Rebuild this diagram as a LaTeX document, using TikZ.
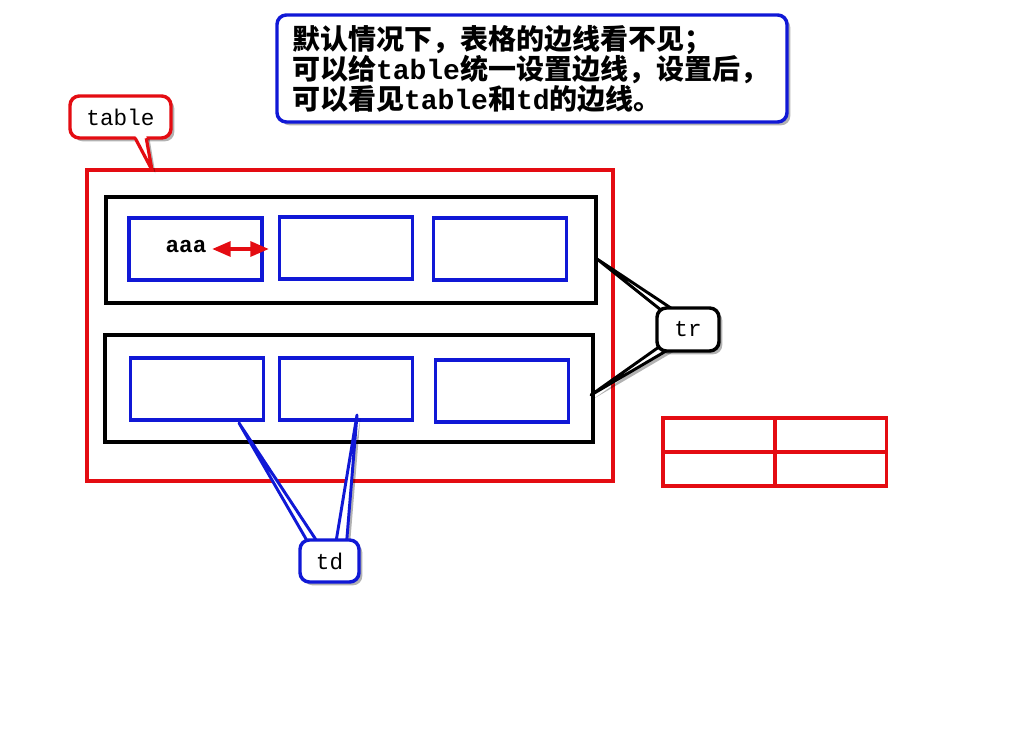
\documentclass[tikz,border=0pt]{standalone}
\usepackage{fontspec}
\setmonofont{Liberation Mono}
\newfontfamily\cjk{Noto Sans CJK SC}
\usetikzlibrary{shadows,arrows.meta,calc}
\definecolor{cred}{RGB}{228,12,18}
\definecolor{cblue}{RGB}{16,24,214}
\pgfdeclarelayer{back}
\pgfdeclarelayer{mid}
\pgfsetlayers{back,mid,main}
\newcommand\zhtxt[1]{{\cjk\bfseries\fontsize{21}{22.5}\selectfont #1}}
\newcommand\entxt[1]{{\ttfamily\bfseries\fontsize{21}{22.5}\selectfont #1}}
\begin{document}
\begin{tikzpicture}[x=0.75pt,y=-0.75pt,
 cell/.style={draw=cblue,line width=2.6pt,minimum width=99.75pt,minimum height=46.5pt,inner sep=0pt},
 rowbox/.style={draw=black,line width=2.6pt,inner sep=0pt},
 smcell/.style={draw=cred,line width=2.4pt,minimum width=84pt,minimum height=25.5pt,inner sep=0pt},
 shad/.style={drop shadow={shadow xshift=2.5pt,shadow yshift=-2.5pt,fill=black,opacity=0.3}},
 callout/.style={fill=white,rounded corners=7pt,line width=2.6pt,inner sep=0pt,shad,font=\ttfamily\fontsize{17}{20}\selectfont},
 tail/.style={fill=white,line width=2.2pt,line join=round,shad},
 mt/.style={font=\ttfamily\bfseries\fontsize{17}{20}\selectfont}]
\useasboundingbox (0,0) rectangle (1024,738);

\begin{pgfonlayer}{back}
  \node[draw=cred,line width=2.4pt,minimum width=394.5pt,minimum height=233.25pt,inner sep=0pt] (tbl) at (350,325.5) {};
  \node[rowbox,minimum width=367.5pt,minimum height=79.5pt] (tr1) at (351,250) {};
  \node[rowbox,minimum width=366pt,minimum height=80.25pt] (tr2) at (349,388.5) {};
  \node[cell] (c11) at (195.5,249) {};
  \node[cell] (c12) at (346,248) {};
  \node[cell] (c13) at (500,249) {};
  \node[cell] (c21) at (197,389) {};
  \node[cell] (c22) at (346,389) {};
  \node[cell] (c23) at (502,391) {};
  \node[smcell] (s11) at (719,435) {};
  \node[smcell] (s12) at (830.5,435) {};
  \node[smcell] (s21) at (719,469) {};
  \node[smcell] (s22) at (830.5,469) {};
  \node[mt,inner sep=0pt] (aaa) at (186,247) {aaa};
  \coordinate (arL) at (212,249);
  \coordinate (arR) at (269,249);
  \draw[cred,line width=3pt,{Triangle[length=14pt,width=11pt]}-{Triangle[length=14pt,width=11pt]}] (arL) -- (arR);
\end{pgfonlayer}

% callouts
\node[callout,draw=cblue,text width=360pt,minimum height=80.25pt,inner xsep=11.25pt,align=left,font=\fontsize{21}{22.5}\selectfont] (note) at (532,68.5)
 {\zhtxt{默认情况下，表格的边线看不见；}\\
  \zhtxt{可以给}\entxt{table}\zhtxt{统一设置边线，设置后，}\\
  \zhtxt{可以看见}\entxt{table}\zhtxt{和}\entxt{td}\zhtxt{的边线。}};
\node[callout,draw=cred,minimum width=75.75pt,minimum height=31.5pt] (tablec) at (120.5,117) {table};
\node[callout,draw=black,minimum width=46.5pt,minimum height=32.25pt] (trc) at (688,329.5) {tr};
\node[callout,draw=cblue,minimum width=44.25pt,minimum height=31.5pt] (tdc) at (329.5,561) {td};

% table callout tail
\coordinate (tabTip) at (152,170);
\path[fill=white,shad] ($(tablec.south west)+(67,-4)$) -- (tabTip) -- ($(tablec.south west)+(78,-4)$) -- cycle;
\fill[white] ($(tablec.south west)+(69.5,-3.5)$) rectangle ($(tablec.south west)+(75.5,2.5)$);
\draw[cred,line width=2.4pt,line join=round] ($(tablec.south west)+(67,-1.5)$) -- (tabTip) -- ($(tablec.south west)+(78,-1.5)$);

\coordinate (trTip1) at (597,259);
\coordinate (trTip2) at (591,395);
\coordinate (tdTip1) at (239,423);
\coordinate (tdTip2) at (357,415);
\begin{pgfonlayer}{mid}
  \draw[tail,draw=black] (trTip1) -- ($(trc.north west)+(11,8)$) -- ($(trc.north west)+(25,8)$) -- cycle;
  \draw[tail,draw=black] (trTip2) -- ($(trc.south west)+(4,-6)$) -- ($(trc.south west)+(18,-6)$) -- cycle;
  \draw[tail,draw=cblue] (tdTip1) -- ($(tdc.north west)+(12,8)$) -- ($(tdc.north west)+(22,8)$) -- cycle;
  \draw[tail,draw=cblue] (tdTip2) -- ($(tdc.north west)+(37,8)$) -- ($(tdc.north west)+(48,8)$) -- cycle;
\end{pgfonlayer}
\end{tikzpicture}
\end{document}
